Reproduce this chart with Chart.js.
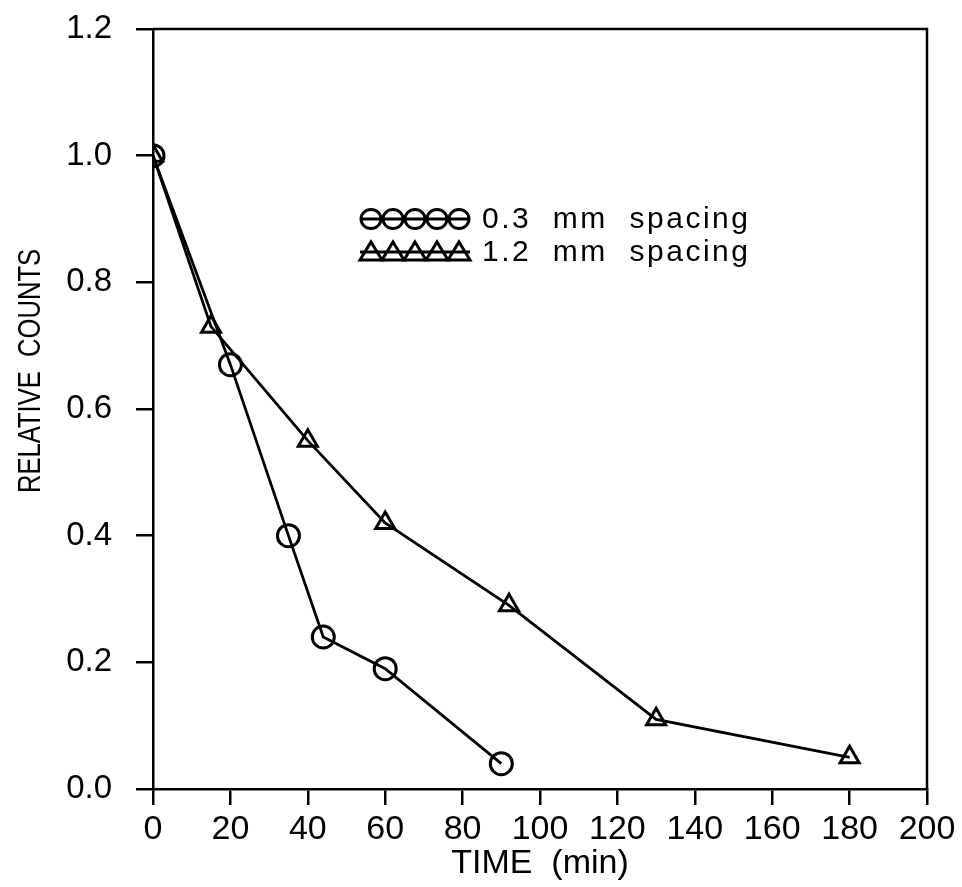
<!DOCTYPE html>
<html>
<head>
<meta charset="utf-8">
<script src="https://cdn.jsdelivr.net/npm/chart.js@4.4.1/dist/chart.umd.min.js"></script>
<style>
  html, body { margin: 0; padding: 0; background: #fff; }
  #wrap { width: 962px; height: 887px; position: relative; }
</style>
</head>
<body>
<div id="wrap"><canvas id="countsChart"></canvas></div>
<script>
// data
const circleTimes = [0, 20, 35, 44, 60, 90];
const circleCounts = [1.0, 0.67, 0.40, 0.24, 0.19, 0.04];
const triTimes = [0, 15, 40, 60, 92, 130, 180];
const triCounts = [1.0, 0.73, 0.55, 0.42, 0.29, 0.11, 0.05];

const xTicks = [0, 20, 40, 60, 80, 100, 120, 140, 160, 180, 200];
const yTicks = [0.0, 0.2, 0.4, 0.6, 0.8, 1.0, 1.2];
const legendLabels = ["0.3  mm  spacing", "1.2  mm  spacing"];
const yTitle = "RELATIVE  COUNTS";

const toPoints = (xs, ys) => xs.map((x, i) => ({ x: x, y: ys[i] }));

//frame on top/right, squeezed y title, legend with a run of 5 markers
const framePlugin = {
  id: "frame",
  afterDraw(chart) {
    const { ctx, chartArea: a } = chart;
    ctx.save();
    ctx.strokeStyle = "#000";
    ctx.fillStyle = "#000";
    ctx.lineWidth = 2.5;
    ctx.beginPath();
    ctx.moveTo(a.left, a.top);
    ctx.lineTo(a.right, a.top);
    ctx.lineTo(a.right, a.bottom);
    ctx.stroke();

    // y title, narrow lettering
    ctx.save();
    ctx.translate(31, 371);
    ctx.rotate(-Math.PI / 2);
    ctx.scale(0.8, 1);
    ctx.font = "32px 'Liberation Sans', Arial, sans-serif";
    ctx.textAlign = "center";
    ctx.textBaseline = "middle";
    ctx.fillText(yTitle, 0, 0);
    ctx.restore();

    const rows = [
      { y: 219, style: "circle" },
      { y: 252, style: "triangle" },
    ];
    rows.forEach((row, r) => {
      ctx.lineWidth = 3;
      ctx.beginPath();
      ctx.moveTo(360, row.y);
      ctx.lineTo(470, row.y);
      ctx.stroke();
      for (let k = 0; k < 5; k++) {
        const cx = 371 + k * 22;
        ctx.beginPath();
        if (row.style === "circle") {
          ctx.ellipse(cx, row.y, 10, 9.5, 0, 0, Math.PI * 2);
        } else {
          ctx.moveTo(cx, row.y - 10);
          ctx.lineTo(cx + 11, row.y + 8);
          ctx.lineTo(cx - 11, row.y + 8);
          ctx.closePath();
        }
        ctx.stroke();
      }
      ctx.font = "30px 'Liberation Sans', Arial, sans-serif";
      ctx.letterSpacing = "2.5px";
      ctx.textBaseline = "middle";
      ctx.textAlign = "left";
      ctx.fillText(legendLabels[r], 482, row.y + 1);
      ctx.letterSpacing = "0px";
    });
    ctx.restore();
  },
};

const ctx = document.getElementById("countsChart");

new Chart(ctx, {
  type: "scatter",
  data: {
    datasets: [
      {
        label: legendLabels[0],
        data: toPoints(circleTimes, circleCounts),
        showLine: true,
        borderColor: "#000",
        borderWidth: 2.8,
        pointStyle: "circle",
        pointRadius: 11,
        pointBorderWidth: 3,
        pointBackgroundColor: "rgba(0,0,0,0)",
        pointBorderColor: "#000",
      },
      {
        label: legendLabels[1],
        data: toPoints(triTimes, triCounts),
        showLine: true,
        borderColor: "#000",
        borderWidth: 2.8,
        pointStyle: "triangle",
        pointRadius: 11,
        pointBorderWidth: 3,
        pointBackgroundColor: "rgba(0,0,0,0)",
        pointBorderColor: "#000",
      },
    ],
  },
  options: {
    responsive: true,
    maintainAspectRatio: false,
    animation: false,
    layout: { padding: { top: 29, right: 35, left: 0, bottom: 0 } },
    plugins: {
      legend: { display: false },
      tooltip: { enabled: false },
    },
    scales: {
      x: {
        type: "linear",
        min: 0,
        max: 200,
        afterBuildTicks: (axis) => { axis.ticks = xTicks.map((v) => ({ value: v })); },
        afterFit: (axis) => {
          axis.height = 98;
          axis.paddingLeft = 0;
          axis.paddingRight = 0;
        },
        border: { color: "#000", width: 2.5 },
        grid: { drawOnChartArea: false, color: "#000", lineWidth: 2.5, tickLength: 16 },
        ticks: {
          color: "#000",
          padding: 4,
          maxRotation: 0,
          font: { family: "'Liberation Sans', Arial, sans-serif", size: 34 },
        },
        title: {
          display: true,
          text: "TIME  (min)",
          color: "#000",
          padding: { top: 0, bottom: 3 },
          font: { family: "'Liberation Sans', Arial, sans-serif", size: 34 },
        },
      },
      y: {
        type: "linear",
        min: 0,
        max: 1.2,
        afterBuildTicks: (axis) => { axis.ticks = yTicks.map((v) => ({ value: v })); },
        afterFit: (axis) => {
          axis.width = 153;
          axis.paddingTop = 0;
          axis.paddingBottom = 0;
        },
        border: { color: "#000", width: 2.5 },
        grid: { drawOnChartArea: false, color: "#000", lineWidth: 2.5, tickLength: 17 },
        ticks: {
          color: "#000",
          padding: 24,
          callback: (v) => v.toFixed(1),
          font: { family: "'Liberation Sans', Arial, sans-serif", size: 33 },
        },
        title: { display: false },
      },
    },
  },
  plugins: [framePlugin],
});
</script>
</body>
</html>
